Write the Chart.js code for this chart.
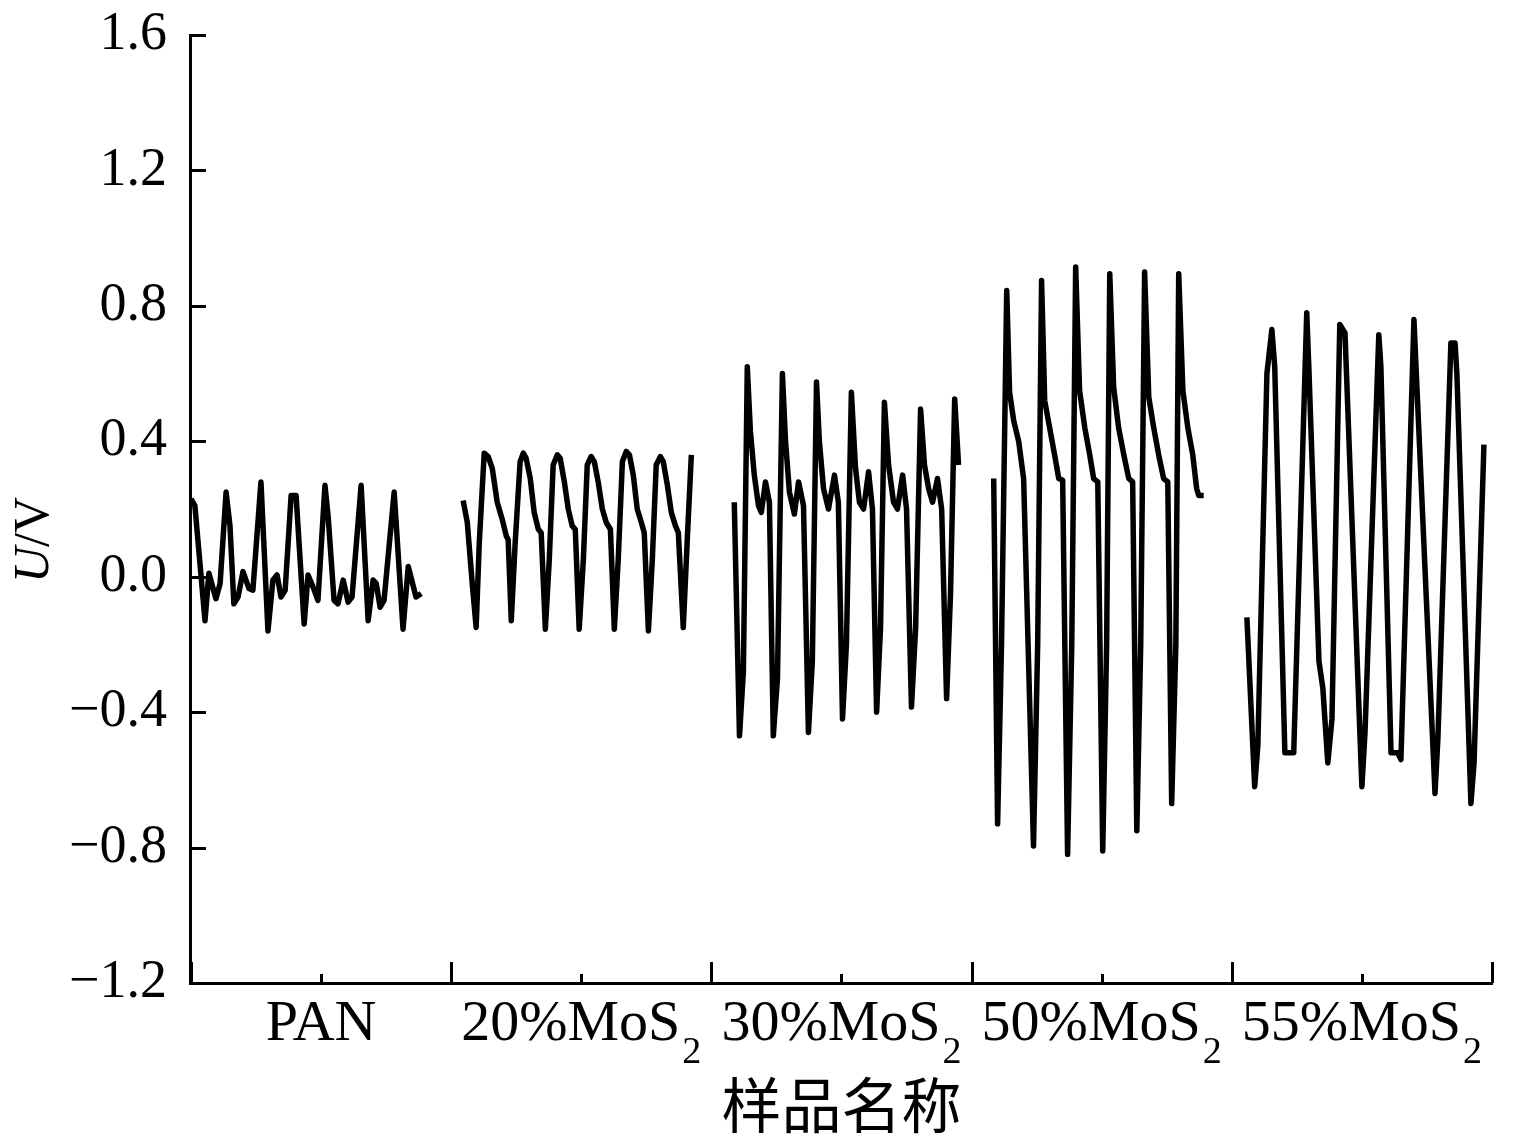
<!DOCTYPE html>
<html>
<head>
<meta charset="utf-8">
<script src="https://cdn.jsdelivr.net/npm/chart.js@4"></script>
<style>
  html, body { margin: 0; padding: 0; background: #fff; }
</style>
</head>
<body>
<canvas id="chart" width="1536" height="1137"></canvas>
<script>
// sample names (subscript part kept apart so it can be drawn lowered)
const categories = ['PAN', '20%MoS', '30%MoS', '50%MoS', '55%MoS'];
const subscripts = ['', '2', '2', '2', '2'];

// [position inside the sample's slot (0..1), U in volts]
const pan = [
  [0.000, 0.23], [0.015, 0.21], [0.054, -0.13], [0.069, 0.01], [0.096, -0.065], [0.112, -0.02],
  [0.135, 0.25], [0.150, 0.15], [0.165, -0.08], [0.181, -0.06], [0.200, 0.015], [0.223, -0.035],
  [0.238, -0.04], [0.269, 0.28], [0.296, -0.16], [0.315, -0.01], [0.331, 0.005], [0.346, -0.06],
  [0.362, -0.04], [0.385, 0.24], [0.404, 0.24], [0.435, -0.14], [0.450, 0.005], [0.469, -0.03],
  [0.488, -0.07], [0.515, 0.27], [0.527, 0.18], [0.550, -0.07], [0.565, -0.08], [0.585, -0.01],
  [0.604, -0.075], [0.619, -0.06], [0.654, 0.27], [0.681, -0.13], [0.700, -0.01], [0.712, -0.02],
  [0.727, -0.09], [0.742, -0.07], [0.781, 0.25], [0.815, -0.155], [0.835, 0.03], [0.865, -0.06],
  [0.885, -0.05]
];
const mos20 = [
  [0.046, 0.225], [0.062, 0.16], [0.081, -0.02], [0.096, -0.15], [0.108, 0.1], [0.127, 0.365],
  [0.142, 0.355], [0.158, 0.32], [0.177, 0.22], [0.196, 0.17], [0.212, 0.12], [0.219, 0.11],
  [0.231, -0.13], [0.246, 0.1], [0.265, 0.34], [0.277, 0.365], [0.288, 0.35], [0.304, 0.29],
  [0.319, 0.19], [0.335, 0.14], [0.346, 0.13], [0.362, -0.155], [0.377, 0.05], [0.392, 0.33],
  [0.408, 0.36], [0.419, 0.35], [0.435, 0.28], [0.450, 0.2], [0.465, 0.15], [0.477, 0.14],
  [0.492, -0.155], [0.508, 0.05], [0.523, 0.33], [0.538, 0.355], [0.550, 0.34], [0.565, 0.28],
  [0.581, 0.2], [0.596, 0.16], [0.612, 0.14], [0.627, -0.155], [0.642, 0.05], [0.658, 0.34],
  [0.673, 0.37], [0.685, 0.36], [0.700, 0.3], [0.715, 0.2], [0.731, 0.16], [0.742, 0.13],
  [0.758, -0.16], [0.773, 0.05], [0.788, 0.33], [0.804, 0.355], [0.815, 0.34], [0.831, 0.27],
  [0.846, 0.19], [0.862, 0.15], [0.873, 0.13], [0.892, -0.15], [0.908, 0.12], [0.923, 0.36]
];
const mos30 = [
  [0.088, 0.22], [0.108, -0.47], [0.123, -0.28], [0.138, 0.62], [0.150, 0.43], [0.165, 0.3],
  [0.181, 0.21], [0.192, 0.19], [0.208, 0.28], [0.223, 0.22], [0.238, -0.47], [0.254, -0.3],
  [0.273, 0.6], [0.285, 0.4], [0.300, 0.25], [0.319, 0.185], [0.335, 0.28], [0.354, 0.21],
  [0.373, -0.46], [0.388, -0.25], [0.404, 0.575], [0.415, 0.4], [0.431, 0.26], [0.450, 0.2],
  [0.473, 0.3], [0.488, 0.22], [0.504, -0.42], [0.519, -0.2], [0.538, 0.545], [0.554, 0.32],
  [0.569, 0.22], [0.585, 0.2], [0.604, 0.31], [0.619, 0.2], [0.635, -0.4], [0.650, -0.15],
  [0.665, 0.515], [0.681, 0.33], [0.700, 0.22], [0.715, 0.2], [0.735, 0.3], [0.750, 0.2],
  [0.769, -0.385], [0.785, -0.15], [0.804, 0.495], [0.819, 0.33], [0.835, 0.26], [0.850, 0.22],
  [0.869, 0.29], [0.885, 0.2], [0.904, -0.36], [0.919, -0.05], [0.935, 0.525], [0.950, 0.33]
];
const mos50 = [
  [0.085, 0.29], [0.100, -0.73], [0.115, -0.2], [0.135, 0.845], [0.146, 0.545], [0.162, 0.46],
  [0.181, 0.4], [0.200, 0.29], [0.238, -0.795], [0.254, -0.2], [0.269, 0.875], [0.281, 0.52],
  [0.300, 0.44], [0.319, 0.36], [0.335, 0.29], [0.350, 0.285], [0.369, -0.82], [0.385, -0.2],
  [0.400, 0.915], [0.415, 0.55], [0.435, 0.44], [0.454, 0.36], [0.469, 0.29], [0.485, 0.28],
  [0.504, -0.81], [0.519, -0.2], [0.531, 0.895], [0.546, 0.56], [0.565, 0.44], [0.585, 0.36],
  [0.604, 0.29], [0.619, 0.28], [0.635, -0.75], [0.650, -0.2], [0.665, 0.9], [0.681, 0.53],
  [0.700, 0.44], [0.719, 0.36], [0.738, 0.29], [0.754, 0.28], [0.769, -0.67], [0.785, -0.2],
  [0.796, 0.895], [0.812, 0.55], [0.831, 0.44], [0.850, 0.36], [0.865, 0.26], [0.873, 0.24],
  [0.892, 0.24]
];
const mos55 = [
  [0.058, -0.12], [0.088, -0.62], [0.100, -0.5], [0.135, 0.6], [0.154, 0.73], [0.165, 0.62],
  [0.204, -0.52], [0.238, -0.52], [0.288, 0.78], [0.296, 0.62], [0.335, -0.25], [0.350, -0.33],
  [0.369, -0.55], [0.385, -0.42], [0.415, 0.745], [0.435, 0.72], [0.500, -0.62], [0.512, -0.46],
  [0.565, 0.715], [0.573, 0.62], [0.612, -0.52], [0.638, -0.52], [0.650, -0.54], [0.700, 0.76],
  [0.708, 0.62], [0.781, -0.64], [0.792, -0.48], [0.842, 0.69], [0.858, 0.69], [0.865, 0.6],
  [0.919, -0.67], [0.931, -0.55], [0.969, 0.39]
];
const series = [pan, mos20, mos30, mos50, mos55];

const yMin = -1.2, yMax = 1.6, yStep = 0.2;

const ink = '#000';
const serif = '"Liberation Serif", "Times New Roman", serif';

// inward ticks, sample names with lowered subscript, italic axis title
const axisDecor = {
  id: 'axisDecor',
  afterDraw(chart) {
    const { ctx, chartArea: a, scales: { x, y } } = chart;
    const line = (x1, y1, x2, y2) => { ctx.beginPath(); ctx.moveTo(x1, y1); ctx.lineTo(x2, y2); ctx.stroke(); };
    ctx.save();
    ctx.strokeStyle = ink;
    ctx.lineWidth = 3;
    y.ticks.forEach(t => {
      const py = Math.round(y.getPixelForValue(t.value)) + 0.5;
      line(a.left, py, a.left + 15, py);
    });
    for (let i = 0; i <= categories.length; i++) {
      const px = Math.round(x.getPixelForValue(i)) + 0.5;
      line(px, a.bottom, px, a.bottom - 21);
    }
    categories.forEach((c, i) => {
      const px = Math.round(x.getPixelForValue(i + 0.5)) + 0.5;
      line(px, a.bottom, px, a.bottom - 9);
    });

    ctx.fillStyle = ink;
    ctx.textBaseline = 'alphabetic';
    ctx.textAlign = 'left';
    const mainFont = '58px ' + serif, subFont = '38px ' + serif;
    categories.forEach((c, i) => {
      ctx.font = mainFont;
      const w1 = ctx.measureText(c).width;
      ctx.font = subFont;
      const w2 = subscripts[i] ? ctx.measureText(subscripts[i]).width + 2 : 0;
      const left = x.getPixelForValue(i + 0.5) - (w1 + w2) / 2;
      ctx.font = mainFont;
      ctx.fillText(c, left, a.bottom + 57);
      if (subscripts[i]) {
        ctx.font = subFont;
        ctx.fillText(subscripts[i], left + w1 + 2, a.bottom + 80);
      }
    });

    // y axis title: italic U, upright /V
    ctx.translate(35, (a.top + a.bottom) / 2 + 31);
    ctx.rotate(-Math.PI / 2);
    ctx.font = 'italic 50px ' + serif;
    const wu = ctx.measureText('U').width;
    ctx.font = '50px ' + serif;
    const wv = ctx.measureText('/V').width;
    ctx.textBaseline = 'middle';
    ctx.font = 'italic 50px ' + serif;
    ctx.fillText('U', -(wu + wv) / 2, 0);
    ctx.font = '50px ' + serif;
    ctx.fillText('/V', -(wu + wv) / 2 + wu, 0);
    ctx.restore();
  }
};

new Chart(document.getElementById('chart'), {
  type: 'line',
  data: {
    datasets: series.map((pts, i) => ({
      label: categories[i] + subscripts[i],
      data: pts.map(([p, u]) => ({ x: i + p, y: u })),
      borderColor: ink,
      borderWidth: 5.5,
      borderJoinStyle: 'round',
      pointRadius: 0,
      tension: 0,
      fill: false
    }))
  },
  options: {
    responsive: false,
    animation: false,
    layout: { padding: { left: 45, right: 44, top: 35, bottom: 2 } },
    plugins: {
      legend: { display: false },
      tooltip: { enabled: false }
    },
    scales: {
      x: {
        type: 'linear',
        min: 0,
        max: categories.length,
        ticks: { display: false },
        grid: { drawOnChartArea: false, drawTicks: false },
        border: { color: ink, width: 3 },
        title: {
          display: true,
          text: '样品名称',
          color: ink,
          font: { family: '"Noto Sans CJK SC"', size: 60, lineHeight: 1 },
          padding: { top: 92, bottom: 0 }
        }
      },
      y: {
        min: yMin,
        max: yMax,
        afterFit: s => { s.paddingTop = 0; s.paddingBottom = 0; },
        ticks: {
          stepSize: yStep,
          color: ink,
          padding: 24,
          font: { family: serif, size: 54 },
          callback: v => {
            const k = Math.round(v * 10);
            return k % 4 === 0 ? (k < 0 ? '\u2212' : '') + (Math.abs(k) / 10).toFixed(1) : '';
          }
        },
        grid: { drawOnChartArea: false, drawTicks: false },
        border: { color: ink, width: 3 }
      }
    }
  },
  plugins: [axisDecor]
});
</script>
</body>
</html>
